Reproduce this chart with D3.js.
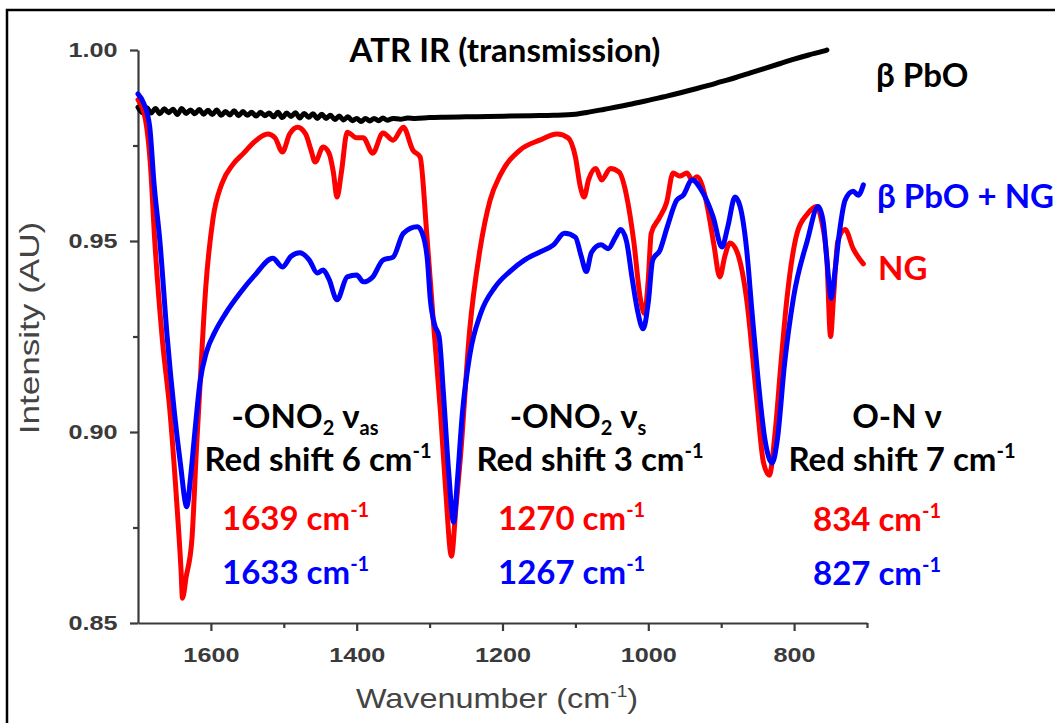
<!DOCTYPE html>
<html>

<head>
    <meta charset="utf-8">
    <style>
        body {
            margin: 0;
            background: #fff;
        }

        svg {
            display: block;
        }

        .axis text {
            font-family: "Liberation Sans", Arial, sans-serif;
            font-size: 21px;
            font-weight: bold;
            fill: #3a3a3a;
        }

        .axis path,
        .axis line {
            stroke: #3a3a3a;
            stroke-width: 2.2px;
        }

        .axis-title {
            font-family: "Liberation Sans", Arial, sans-serif;
            font-size: 27px;
            fill: #444;
        }

        .note {
            font-family: Lato, "Open Sans", sans-serif;
            font-weight: bold;
            font-size: 33px;
        }
    </style>
</head>

<body>
    <svg width="1055" height="723"></svg>

    <script src="https://cdn.jsdelivr.net/npm/d3@7"></script>
    <script>
        // wavenumbers (cm-1) and intensities

        // beta PbO (black, noisy at the high wavenumber end)
        let pboWn = [1700, 1694, 1688, 1682, 1676, 1670, 1664, 1658, 1652, 1646, 1640, 1634, 1628, 1622, 1616, 1610,
            1604, 1598, 1592, 1586, 1580, 1574, 1568, 1562, 1556, 1550, 1544, 1538, 1532, 1526, 1520, 1514, 1508,
            1502, 1496, 1490, 1484, 1478, 1472, 1466, 1460, 1454, 1448, 1442, 1436, 1430, 1424, 1418, 1412, 1406,
            1400, 1394, 1388, 1382, 1376, 1370, 1364, 1358, 1350, 1340, 1330, 1320, 1300, 1280, 1250, 1220, 1190,
            1160, 1130, 1100, 1080, 1060, 1040, 1020, 1000, 980, 960, 940, 920, 900, 880, 860, 840, 820, 800, 780,
            760, 755]
        let pboVal = [0.9850, 0.9836, 0.9849, 0.9835, 0.9847, 0.9833, 0.9846, 0.9836, 0.9845, 0.9831, 0.9847, 0.9834,
            0.9843, 0.9833, 0.9844, 0.9832, 0.9842, 0.9831, 0.9843, 0.9829, 0.9839, 0.9830, 0.9841, 0.9828, 0.9839,
            0.9829, 0.9837, 0.9827, 0.9837, 0.9828, 0.9835, 0.9825, 0.9837, 0.9823, 0.9835, 0.9826, 0.9836, 0.9822,
            0.9834, 0.9824, 0.9833, 0.9821, 0.9832, 0.9821, 0.9829, 0.9818, 0.9827, 0.9817, 0.9825, 0.9815, 0.9821,
            0.9813, 0.9821, 0.9814, 0.9821, 0.9815, 0.9822, 0.9816, 0.9821, 0.9819, 0.9822, 0.9821, 0.9823, 0.9824,
            0.9825, 0.9826, 0.9827, 0.9828, 0.9829, 0.9832, 0.9838, 0.9845, 0.9852, 0.9860, 0.9868, 0.9877, 0.9886,
            0.9896, 0.9906, 0.9917, 0.9928, 0.9940, 0.9952, 0.9964, 0.9976, 0.9987, 0.9997, 1.0000]

        // NG (red)
        let ngWn = [1700, 1690, 1683, 1677, 1667, 1656, 1647, 1641, 1639, 1634, 1626, 1620, 1615, 1607, 1597, 1585,
            1570, 1555, 1540, 1522, 1512, 1502, 1492, 1481, 1470, 1463, 1457, 1446, 1438, 1432, 1427, 1421, 1413,
            1400, 1391, 1378, 1364, 1350, 1336, 1323, 1313, 1304, 1295, 1285, 1278, 1270, 1264, 1258, 1245, 1231,
            1217, 1203, 1176, 1149, 1125, 1110, 1100, 1093, 1088, 1082, 1072, 1064, 1052, 1040, 1030, 1020, 1011,
            1005, 1000, 996, 985, 975, 966, 957, 947, 940, 933, 919, 910, 902, 895, 888, 878, 865, 852, 842, 834,
            826, 818, 810, 796, 782, 769, 762, 755, 750, 746, 740, 730, 719, 705]
        let ngVal = [0.987, 0.982, 0.970, 0.950, 0.925, 0.905, 0.882, 0.864, 0.8565, 0.862, 0.872, 0.895, 0.912,
            0.938, 0.956, 0.965, 0.970, 0.973, 0.976, 0.978, 0.977, 0.9733, 0.978, 0.9798, 0.978, 0.974, 0.9707,
            0.9746, 0.973, 0.968, 0.9615, 0.968, 0.9785, 0.977, 0.977, 0.973, 0.9783, 0.9764, 0.9798, 0.9738,
            0.972, 0.9521, 0.9293, 0.905, 0.885, 0.8675, 0.880, 0.8927, 0.9267, 0.9476, 0.9607, 0.9673, 0.9738,
            0.9764, 0.978, 0.977, 0.972, 0.964, 0.9615, 0.966, 0.969, 0.966, 0.969, 0.968, 0.962, 0.950, 0.935,
            0.931, 0.940, 0.952, 0.956, 0.960, 0.9678, 0.967, 0.9678, 0.966, 0.9668, 0.959, 0.949, 0.9406, 0.946,
            0.9495, 0.947, 0.9346, 0.910, 0.892, 0.8887, 0.900, 0.918, 0.9346, 0.952, 0.957, 0.959, 0.955, 0.945,
            0.925, 0.935, 0.950, 0.953, 0.948, 0.944]

        // beta PbO + NG (blue)
        let mixWn = [1700, 1692, 1684, 1678, 1670, 1660, 1650, 1642, 1633, 1628, 1622, 1615, 1606, 1595, 1580, 1560,
            1540, 1515, 1502, 1490, 1478, 1465, 1454, 1446, 1438, 1427, 1413, 1400, 1391, 1378, 1364, 1350, 1336,
            1317, 1310, 1303, 1299, 1293, 1287, 1281, 1274, 1267, 1262, 1255, 1245, 1230, 1210, 1190, 1170, 1150,
            1130, 1115, 1100, 1092, 1085, 1078, 1065, 1055, 1045, 1038, 1030, 1022, 1015, 1007, 1000, 994, 984, 974,
            961, 952, 940, 925, 911, 899, 891, 881, 874, 865, 858, 850, 840, 830, 823, 813, 801, 782, 767, 760, 755,
            749, 744, 738, 730, 719, 712, 705]
        let mixVal = [0.9885, 0.986, 0.980, 0.965, 0.950, 0.925, 0.905, 0.892, 0.8804, 0.888, 0.900, 0.913, 0.921,
            0.926, 0.931, 0.9364, 0.941, 0.9455, 0.9432, 0.946, 0.9469, 0.945, 0.9416, 0.9424, 0.940, 0.9346,
            0.9406, 0.9411, 0.9393, 0.9406, 0.945, 0.9458, 0.952, 0.9537, 0.952, 0.945, 0.9346, 0.928, 0.925,
            0.910, 0.890, 0.8764, 0.887, 0.905, 0.920, 0.931, 0.938, 0.942, 0.945, 0.947, 0.949, 0.952, 0.951,
            0.946, 0.942, 0.947, 0.949, 0.948, 0.951, 0.953, 0.950, 0.940, 0.932, 0.927, 0.934, 0.945, 0.9476,
            0.9537, 0.9607, 0.962, 0.966, 0.9626, 0.9563, 0.9484, 0.9537, 0.9615, 0.959, 0.9476, 0.932, 0.915,
            0.898, 0.8919, 0.898, 0.918, 0.935, 0.950, 0.959, 0.955, 0.945, 0.935, 0.942, 0.952, 0.9607, 0.963,
            0.962, 0.9647]

        let yTicks = [0.85, 0.90, 0.95, 1.00]
        let yMinor = [0.875, 0.925, 0.975]
        let xTicks = [1600, 1400, 1200, 1000, 800]
        let xMinor = [1500, 1300, 1100, 900, 700]

        let width = 1055
        let height = 723
        let margin = { top: 50, right: 188, bottom: 100, left: 138 }

        let svg = d3.select("svg")

        // outer frame of the figure (runs off the right and bottom of the crop)
        svg.append("rect")
            .attr("x", 7)
            .attr("y", 10)
            .attr("width", width + 20)
            .attr("height", height + 20)
            .attr("fill", "none")
            .attr("stroke", "#000")
            .attr("stroke-width", 2.5)

        let x = d3.scaleLinear()
            .domain([1700, 700])
            .range([margin.left, width - margin.right])

        let y = d3.scaleLinear()
            .domain([0.85, 1.00])
            .range([height - margin.bottom, margin.top])

        // axes (the original figure is a bit stretched sideways, so the labels are too)
        svg.append("g")
            .attr("class", "axis")
            .attr("transform", `translate(${margin.left},0)`)
            .call(d3.axisLeft(y).tickValues(yTicks).tickFormat(d3.format(".2f"))
                .tickSize(8).tickSizeOuter(0).tickPadding(9))
            .call(g => g.selectAll(".tick text").attr("transform", "scale(1.2,1)"))

        svg.append("g")
            .attr("class", "axis")
            .attr("transform", `translate(${margin.left},0)`)
            .call(d3.axisLeft(y).tickValues(yMinor).tickFormat("").tickSize(5).tickSizeOuter(0))
            .call(g => g.select(".domain").remove())

        svg.append("g")
            .attr("class", "axis")
            .attr("transform", `translate(0,${height - margin.bottom})`)
            .call(d3.axisBottom(x).tickValues(xTicks).tickFormat(d3.format("d"))
                .tickSize(8).tickSizeOuter(0).tickPadding(16))
            .call(g => g.selectAll(".tick text").attr("transform", "scale(1.2,1)"))

        svg.append("g")
            .attr("class", "axis")
            .attr("transform", `translate(0,${height - margin.bottom})`)
            .call(d3.axisBottom(x).tickValues(xMinor).tickFormat("").tickSize(5).tickSizeOuter(0))
            .call(g => g.select(".domain").remove())

        // axis titles
        let xt = svg.append("text")
            .attr("class", "axis-title")
            .attr("transform", "translate(497,708) scale(1.2,1)")
            .attr("text-anchor", "middle")
        xt.append("tspan").text("Wavenumber (cm")
        xt.append("tspan").attr("font-size", "16px").attr("dy", -11).text("-1")
        xt.append("tspan").attr("dy", 11).text(")")

        svg.append("text")
            .attr("class", "axis-title")
            .attr("font-size", "25px")
            .attr("transform", "translate(39,328) rotate(-90) scale(1.3,1)")
            .attr("text-anchor", "middle")
            .text("Intensity (AU)")

        // spectra
        let line = d3.line()
            .x(d => x(d[0]))
            .y(d => y(d[1]))
            .curve(d3.curveMonotoneX)

        let series = [
            { name: "β PbO", wn: pboWn, val: pboVal, color: "#000000", w: 5 },
            { name: "NG", wn: ngWn, val: ngVal, color: "#ff0000", w: 5 },
            { name: "β PbO + NG", wn: mixWn, val: mixVal, color: "#0000ff", w: 5 }
        ]

        svg.append("g")
            .selectAll("path")
            .data(series)
            .join("path")
            .attr("fill", "none")
            .attr("stroke", d => d.color)
            .attr("stroke-width", d => d.w)
            .attr("stroke-linejoin", "round")
            .attr("stroke-linecap", "round")
            .attr("d", d => line(d.wn.map((w, i) => [w, d.val[i]])))

        // annotation helper: parts are [text, "sup" | "sub" | ""]
        function note(px, py, parts, color, anchor) {
            let t = svg.append("text")
                .attr("class", "note")
                .attr("x", px)
                .attr("y", py)
                .attr("fill", color)
                .attr("text-anchor", anchor || "start")
            let shift = 0
            parts.forEach(p => {
                let target = p[1] === "sup" ? -13 : p[1] === "sub" ? 7 : 0
                let s = t.append("tspan")
                    .attr("dy", target - shift)
                    .text(p[0])
                if (p[1]) s.attr("font-size", "20px")
                shift = target
            })
            return t
        }

        note(505, 62, [["ATR IR (transmission)", ""]], "#000", "middle")
        note(876, 87, [["β PbO", ""]], "#000")
        note(877, 208, [["β PbO + NG", ""]], "#0000ff")
        note(878, 280, [["NG", ""]], "#ff0000")

        note(305, 428, [["-ONO", ""], ["2", "sub"], [" ν", ""], ["as", "sub"]], "#000", "middle")
        note(318, 471, [["Red shift 6 cm", ""], ["-1", "sup"]], "#000", "middle")
        note(222, 530, [["1639 cm", ""], ["-1", "sup"]], "#ff0000")
        note(222, 584, [["1633 cm", ""], ["-1", "sup"]], "#0000ff")

        note(578, 428, [["-ONO", ""], ["2", "sub"], [" ν", ""], ["s", "sub"]], "#000", "middle")
        note(590, 471, [["Red shift 3 cm", ""], ["-1", "sup"]], "#000", "middle")
        note(498, 530, [["1270 cm", ""], ["-1", "sup"]], "#ff0000")
        note(498, 584, [["1267 cm", ""], ["-1", "sup"]], "#0000ff")

        note(897, 428, [["O-N ν", ""]], "#000", "middle")
        note(902, 471, [["Red shift 7 cm", ""], ["-1", "sup"]], "#000", "middle")
        note(813, 531, [["834 cm", ""], ["-1", "sup"]], "#ff0000")
        note(813, 585, [["827 cm", ""], ["-1", "sup"]], "#0000ff")
    </script>
</body>

</html>
